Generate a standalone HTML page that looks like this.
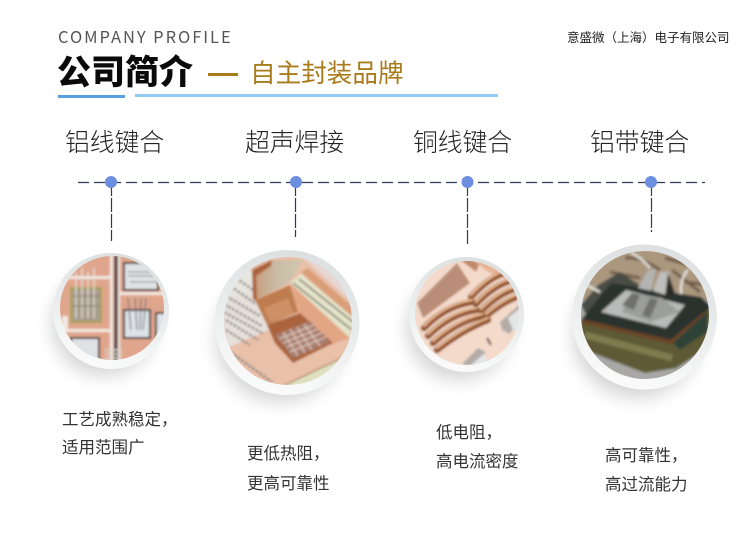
<!DOCTYPE html>
<html><head><meta charset="utf-8"><style>
html,body{margin:0;padding:0;background:#fff}
svg{display:block}
text{font-family:"Noto Sans CJK SC","Liberation Sans",sans-serif}
</style></head><body>
<svg width="750" height="542" viewBox="0 0 750 542" xmlns="http://www.w3.org/2000/svg">
<defs>
<filter id="b1" x="-5%" y="-5%" width="110%" height="110%"><feGaussianBlur stdDeviation="1"/></filter>
<filter id="b4" x="-5%" y="-5%" width="110%" height="110%"><feGaussianBlur stdDeviation="1.200"/></filter>
<filter id="sh" x="-40%" y="-40%" width="180%" height="180%"><feGaussianBlur stdDeviation="9"/></filter>
<linearGradient id="rim" x1="0.65" y1="0" x2="0.4" y2="1"><stop offset="0" stop-color="#dcdfe0"/><stop offset=".55" stop-color="#eceeee"/><stop offset="1" stop-color="#fbfbfb"/></linearGradient>
<linearGradient id="plate" x1="0" y1="0" x2="1" y2="0"><stop offset="0" stop-color="#c89a76"/><stop offset=".5" stop-color="#c9bca6"/><stop offset="1" stop-color="#cfc9b0"/></linearGradient>
<clipPath id="c1"><circle cx="112" cy="308" r="52"/></clipPath>
<clipPath id="c2"><circle cx="288" cy="321" r="64"/></clipPath>
<clipPath id="c3"><circle cx="467" cy="313" r="52"/></clipPath>
<clipPath id="c4"><circle cx="645" cy="315" r="64"/></clipPath>
</defs>
<rect width="750" height="542" fill="#fff"/>

<text x="58" y="43" font-size="16.500" letter-spacing="1.950" fill="#555">COMPANY PROFILE</text>
<text x="57" y="84" font-size="34" fill="#0a0a0a" style="font-weight:900">公司简介</text>
<rect x="208" y="73" width="30" height="3" fill="#a87c1c"/>
<text x="250" y="82" font-size="25.600" fill="#a87c1c">自主封装品牌</text>
<rect x="58" y="95" width="67" height="3" fill="#5a9fe2"/>
<rect x="135" y="94" width="363" height="3" fill="#93caf2"/>
<text x="567" y="42" font-size="12.500" fill="#222">意盛微（上海）电子有限公司</text>

<g font-size="24.800" fill="#222" style="font-weight:300">
<text x="65" y="151">铝线键合</text>
<text x="245" y="151">超声焊接</text>
<text x="413" y="151">铜线键合</text>
<text x="590" y="151">铝带键合</text>
</g>

<line x1="78" y1="182.500" x2="705" y2="182.500" stroke="#2f3b55" stroke-width="1.200" stroke-dasharray="11 5"/>
<g stroke="#2f3b55" stroke-width="1.200" stroke-dasharray="14 2">
<line x1="111.500" y1="182" x2="111.500" y2="241"/>
<line x1="295.500" y1="182" x2="295.500" y2="237"/>
<line x1="467.500" y1="182" x2="467.500" y2="244"/>
<line x1="651.500" y1="182" x2="651.500" y2="232"/>
</g>
<g fill="#6c8fdf">
<circle cx="111" cy="182" r="6"/>
<circle cx="296" cy="182" r="6"/>
<circle cx="467.500" cy="182" r="6"/>
<circle cx="651" cy="182" r="6"/>
</g>

<g fill="#000" filter="url(#sh)" opacity=".17">
<circle cx="104" cy="324" r="52"/>
<circle cx="280" cy="338" r="64"/>
<circle cx="459" cy="328" r="52"/>
<circle cx="637" cy="334" r="64"/>
</g>
<circle cx="111" cy="311" r="58" fill="url(#rim)"/>
<circle cx="287" cy="322.500" r="72.500" fill="url(#rim)"/>
<circle cx="466.500" cy="314.500" r="57.500" fill="url(#rim)"/>
<circle cx="644.500" cy="317" r="72.500" fill="url(#rim)"/>

<!-- image 1 -->
<g clip-path="url(#c1)"><g filter="url(#b1)">
<rect x="55" y="250" width="115" height="115" fill="#e0a68d"/>
<rect x="114" y="255" width="4" height="110" fill="#5f4d4b"/>
<rect x="110" y="255" width="3" height="110" fill="#f0e8e2"/>
<rect x="118" y="255" width="2" height="110" fill="#f0e8e2"/>
<rect x="60" y="276" width="50" height="3" fill="#f3e9e1"/>
<rect x="120" y="292" width="50" height="3" fill="#f3e9e1"/>
<rect x="62" y="329" width="48" height="3" fill="#f3e9e1"/>
<rect x="62" y="316" width="6" height="14" fill="#f3e9e1"/>
<rect x="71" y="288" width="30" height="34" fill="#a99d8c" stroke="#a9a34e" stroke-width="2"/>
<g stroke="#e3dfd8" stroke-width="1.300" fill="none"><path d="M76 272V318M82 268V318M88 272V318M94 268V318"/><path d="M72 296H100M72 306H100" stroke="#8d8778"/></g>
<rect x="124" y="263" width="34" height="27" fill="#dfe3e5" stroke="#3a3338" stroke-width="2"/>
<path d="M128 272H152M128 276H156M130 282H156" stroke="#7b7b7c" stroke-width="1"/>
<rect x="124" y="310" width="26" height="28" fill="#dde3e6" stroke="#3a3338" stroke-width="2"/>
<path d="M128 298L131 330M135 298L137 330M141 298L140 330M146 298L143 330" stroke="#77767a" stroke-width="1.200"/>
<rect x="156" y="313" width="12" height="28" fill="#dde3e6" stroke="#3a3338" stroke-width="2"/>
<rect x="71" y="338" width="28" height="30" fill="#dfe2e5" stroke="#3a3338" stroke-width="2"/>
<path d="M105 350H122M105 354H122M105 358H122" stroke="#d8d8d0" stroke-width="1.500"/>
</g></g>

<!-- image 2 -->
<g clip-path="url(#c2)"><g filter="url(#b1)">
<rect x="220" y="255" width="140" height="135" fill="#e9c0a8"/>
<path d="M220 295L253 270L273 328L227 348Z" fill="#e6e1db"/>
<path d="M225 270H255L253 290L222 300Z" fill="#e8e6e0"/>
<g stroke="#8f8a86" stroke-width="2.400" stroke-dasharray="3 1.500" fill="none"><path d="M226 296L260 316M224 304L262 326M224 312L264 334M226 320L258 340M226 330L250 345M230 286L256 304M236 278L256 292"/></g>
<g stroke="#8f8a86" stroke-width="2.600" stroke-dasharray="3 1.500" fill="none"><path d="M230 352L272 382M226 358L262 386"/></g>
<path d="M300 255L360 255V310Z" fill="#e7d6d2"/>
<path d="M301 272L308 268L354 308L352 318Z" fill="#da9f78"/>
<path d="M290 283L301 274L354 318L350 338Z" fill="#e5e4ca"/>
<path d="M293 283L352 330M299 279L353 322" stroke="#7a7c70" stroke-width="1.600"/>
<path d="M290 283L350 338L330 345L298 312Z" fill="#e3a685"/>
<path d="M283 386L352 354L345 380L293 392Z" fill="#dfe0c2"/>
<path d="M283 386L350 354" stroke="#a77a50" stroke-width="1.200"/>
<path d="M252 270L272 260L303 260L290 282L255 300Z" fill="url(#plate)"/>
<path d="M252 270L272 260L271 266L256 276L257 300L253 300Z" fill="#ac643c"/>
<path d="M255 300L290 285L298 312L267 325Z" fill="#bf7c50"/>
<path d="M264 308L288 298L294 314L270 322Z" fill="#cf9066"/>
<path d="M267 325L300 313L333 343L293 363L275 343Z" fill="#ab633c"/>
<path d="M275 335L310 321L330 342L293 358Z" fill="#a97e6e"/>
<g stroke="#e8d6cc" stroke-width="1.100" opacity=".95"><path d="M279 339L314 325M283 343L318 329M287 347L322 333M290 352L326 337"/><path d="M283 332L298 356M290 329L305 353M297 327L312 350M304 324L320 346"/></g>
</g></g>

<!-- image 3 -->
<g clip-path="url(#c3)"><g filter="url(#b1)">
<rect x="410" y="255" width="115" height="115" fill="#f4dacb"/>
<path d="M417 303L457 263L470 283L423 318Z" fill="#b98d77"/>
<path d="M458 258L482 258L476 272Z" fill="#c18a6c"/>
<path d="M470 258H525V285L488 272Z" fill="#e7b596"/>
<path d="M500 322L520 304V316L510 334L502 330Z" fill="#b3aca8"/>
<path d="M508 318L520 308V325L514 332Z" fill="#e4e6e6"/>
<path d="M462 364L478 348L486 352L470 366Z" fill="#b3aca8"/>
<path d="M470 366L484 354L490 366Z" fill="#e4e6e6"/>
<path d="M487 338L491 345" stroke="#77625a" stroke-width="2.400"/>
<g fill="none" stroke-linecap="round">
<g stroke="#94542f" stroke-width="6.500"><path d="M424 328Q445 306 472 302"/><path d="M428 336Q450 314 476 310"/><path d="M433 343Q456 322 482 316"/><path d="M437 350Q462 330 488 320"/><path d="M471 297Q490 276 508 272"/><path d="M476 304Q495 284 513 280"/><path d="M481 311Q500 292 518 288"/><path d="M486 316Q505 300 522 295"/></g>
<g stroke="#edc09a" stroke-width="2"><path d="M424 326Q445 304 472 300"/><path d="M428 334Q450 312 476 308"/><path d="M433 341Q456 320 482 314"/><path d="M437 348Q462 328 488 318"/><path d="M471 295Q490 274 508 270"/><path d="M476 302Q495 282 513 278"/><path d="M481 309Q500 290 518 286"/><path d="M486 314Q505 298 522 293"/></g>
</g>
</g></g>

<!-- image 4 -->
<g clip-path="url(#c4)"><g filter="url(#b4)">
<rect x="578" y="250" width="135" height="135" fill="#a9a8a6"/>
<rect x="578" y="250" width="135" height="50" fill="#ab977e"/>
<path d="M625 258Q640 256 660 270M665 258L700 268M610 272L640 278M672 270L700 292M685 282L708 285" stroke="#6e5a48" stroke-width="3" fill="none"/>
<path d="M581 305L598 285L620 272L640 285L625 300L590 322Z" fill="#4a4d45"/>
<path d="M581 320L611 283L701 297L712 307L671 340L585 322Z" fill="#2b312d"/>
<path d="M581 322L671 342L712 306V345L676 368L645 373L590 352L578 335Z" fill="#5d5a36"/>
<path d="M581 321L671 342L705 314" stroke="#6a4525" stroke-width="4" fill="none"/>
<path d="M585 335L672 358" stroke="#7e7c50" stroke-width="7" fill="none"/>
<path d="M673 343L707 312V332L680 350Z" fill="#2f4239"/>
<path d="M601 312L626 290L685 305L666 328Z" fill="#b8bbb9"/>
<path d="M622 312L632 293L662 298L680 312L650 322Z" fill="#9c9e9c"/>
<path d="M622 305L632 293L640 295L634 310ZM642 315L650 298L658 300L650 318Z" fill="#6f706e"/>
<path d="M638 288L648 270L656 269L651 291Z" fill="#b3b4b2"/>
<path d="M653 291L660 272L670 272L666 295Z" fill="#bebfbd"/>
<path d="M668 273L675 293L665 297Z" fill="#2b2b28"/>
<path d="M631 253Q642 258 650 268M581 282Q592 288 600 292" stroke="#e8e8e4" stroke-width="2.200" fill="none"/>
<path d="M681 294Q680 278 688 270" stroke="#eeeeea" stroke-width="2" fill="none"/>
</g></g>

<g font-size="16.500" fill="#333">
<text x="62" y="425">工艺成熟稳定，</text>
<text x="62" y="453">适用范围广</text>
<text x="247" y="459">更低热阻，</text>
<text x="247" y="489">更高可靠性</text>
<text x="436" y="438">低电阻，</text>
<text x="436" y="467">高电流密度</text>
<text x="605" y="461">高可靠性，</text>
<text x="605" y="490">高过流能力</text>
</g>
</svg>
</body></html>
